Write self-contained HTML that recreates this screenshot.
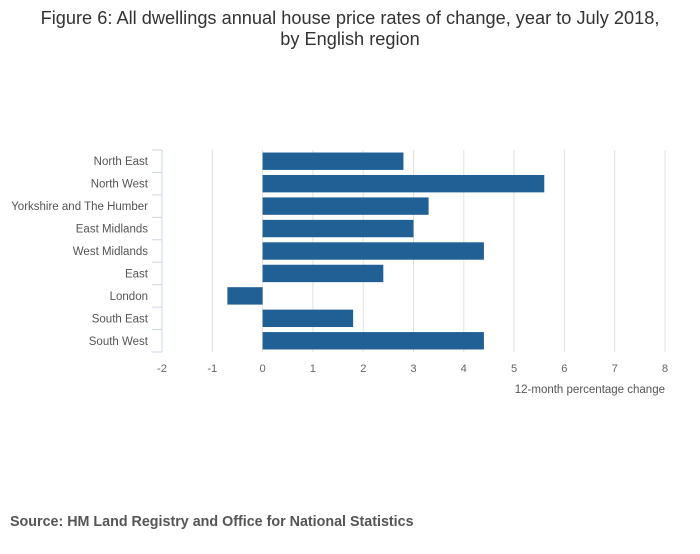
<!DOCTYPE html>
<html><head><meta charset="utf-8"><style>
body{margin:0;background:#fff;font-family:"Liberation Sans","DejaVu Sans",sans-serif;}
</style></head><body>
<svg id="chart" width="700" height="549" xmlns="http://www.w3.org/2000/svg">
<text x="350" y="24" text-anchor="middle" font-size="18.2" fill="#333">Figure 6: All dwellings annual house price rates of change, year to July 2018,</text>
<text x="350" y="45" text-anchor="middle" font-size="18.2" fill="#333">by English region</text>
<g id="grid"></g><g id="bars"></g><g id="yaxis"></g><g id="xaxis"></g>
<text x="665" y="393" text-anchor="end" font-size="11.5" fill="#555">12-month percentage change</text>
<text x="10" y="526" font-size="14.3" font-weight="bold" fill="#555">Source: HM Land Registry and Office for National Statistics</text>
</svg>
<script>
const categories=["North East","North West","Yorkshire and The Humber","East Midlands","West Midlands","East","London","South East","South West"];
const values=[2.8,5.6,3.3,3.0,4.4,2.4,-0.7,1.8,4.4];
const xTicks=[-2,-1,0,1,2,3,4,5,6,7,8];
const NS="http://www.w3.org/2000/svg";
const x0=162,x1=665,yTop=150,yBottom=352,xmin=-2,xmax=8;
const xs=v=>x0+(v-xmin)/(xmax-xmin)*(x1-x0);
const band=(yBottom-yTop)/categories.length;
function mk(tag,attrs,parent){const e=document.createElementNS(NS,tag);for(const k in attrs)e.setAttribute(k,attrs[k]);document.getElementById(parent).appendChild(e);return e;}
xTicks.forEach(t=>{
  if(t!==xmin){const g=mk('line',{x1:xs(t),x2:xs(t),y1:yTop,y2:yBottom,stroke:'#e0e0e0','stroke-width':1},'grid');
  
  }
  const l=mk('text',{x:xs(t),y:372,'text-anchor':'middle','font-size':11.2,fill:'#666'},'xaxis');l.textContent=t;
  
  
});
const ax=mk('line',{x1:x0,x2:x0,y1:yTop,y2:yBottom,stroke:'#ccd6eb','stroke-width':1},'yaxis');


for(let i=0;i<=categories.length;i++){const y=yTop+i*band;
  const tk=mk('line',{x1:x0-10,x2:x0,y1:y,y2:y,stroke:'#ccd6eb','stroke-width':1},'yaxis');
  
  }
categories.forEach((c,i)=>{
  const yc=yTop+(i+0.5)*band;
  const a=xs(Math.min(0,values[i])),b=xs(Math.max(0,values[i]));
  const r=mk('rect',{x:a,y:yc-8.7,width:b-a,height:17.4,fill:'#206095'},'bars');
  
  
  const t=mk('text',{x:148,y:yc+4,'text-anchor':'end','font-size':11.5,fill:'#555'},'yaxis');t.textContent=c;
  
  
});
</script>
</body></html>
